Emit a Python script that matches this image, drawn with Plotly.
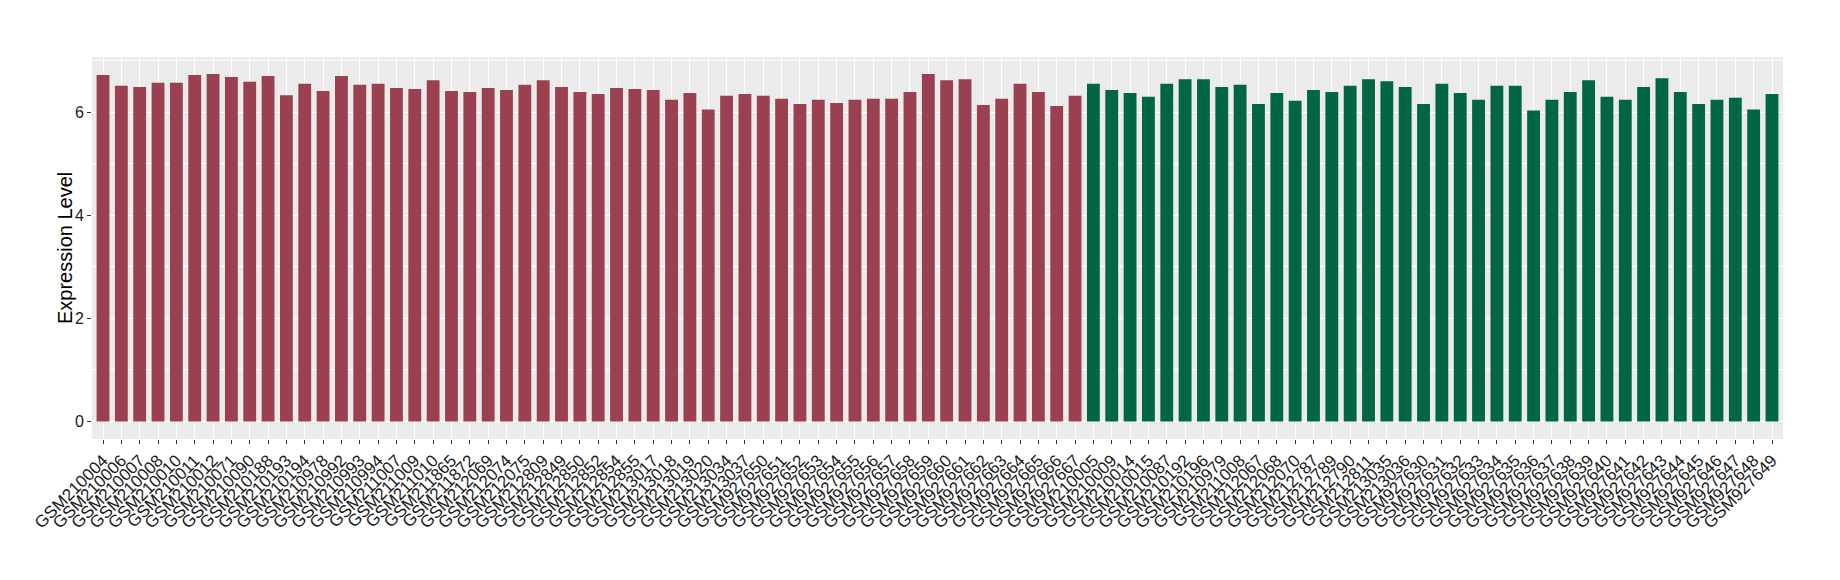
import plotly.graph_objects as go

samples_a = [
    "GSM210004", "GSM210006", "GSM210007", "GSM210008", "GSM210010", "GSM210011",
    "GSM210012", "GSM210071", "GSM210090", "GSM210188", "GSM210193", "GSM210194",
    "GSM210978", "GSM210992", "GSM210993", "GSM210994", "GSM211007", "GSM211009",
    "GSM211010", "GSM211865", "GSM211872", "GSM212069", "GSM212074", "GSM212075",
    "GSM212809", "GSM212849", "GSM212850", "GSM212852", "GSM212854", "GSM212855",
    "GSM213017", "GSM213018", "GSM213019", "GSM213020", "GSM213034", "GSM213037",
    "GSM927650", "GSM927651", "GSM927652", "GSM927653", "GSM927654", "GSM927655",
    "GSM927656", "GSM927657", "GSM927658", "GSM927659", "GSM927660", "GSM927661",
    "GSM927662", "GSM927663", "GSM927664", "GSM927665", "GSM927666", "GSM927667",
]
values_a = [
    6.72, 6.51, 6.49, 6.57, 6.57, 6.72, 6.74, 6.68, 6.59, 6.70, 6.33, 6.55,
    6.41, 6.70, 6.53, 6.55, 6.47, 6.45, 6.62, 6.41, 6.39, 6.47, 6.43, 6.53,
    6.62, 6.49, 6.39, 6.35, 6.47, 6.45, 6.43, 6.24, 6.37, 6.05, 6.32, 6.35,
    6.32, 6.26, 6.16, 6.24, 6.18, 6.24, 6.26, 6.26, 6.39, 6.74, 6.62, 6.64,
    6.14, 6.26, 6.55, 6.39, 6.12, 6.32,
]

samples_b = [
    "GSM210005", "GSM210009", "GSM210014", "GSM210015", "GSM210087", "GSM210192",
    "GSM210196", "GSM210979", "GSM211008", "GSM212067", "GSM212068", "GSM212070",
    "GSM212787", "GSM212789", "GSM212790", "GSM212811", "GSM213035", "GSM213036",
    "GSM927630", "GSM927631", "GSM927632", "GSM927633", "GSM927634", "GSM927635",
    "GSM927636", "GSM927637", "GSM927638", "GSM927639", "GSM927640", "GSM927641",
    "GSM927642", "GSM927643", "GSM927644", "GSM927645", "GSM927646", "GSM927647",
    "GSM927648", "GSM927649",
]
values_b = [
    6.55, 6.43, 6.37, 6.30, 6.55, 6.64, 6.64, 6.49, 6.53, 6.16, 6.37, 6.22,
    6.43, 6.39, 6.51, 6.64, 6.60, 6.49, 6.16, 6.55, 6.37, 6.24, 6.51, 6.51,
    6.03, 6.24, 6.39, 6.62, 6.30, 6.24, 6.49, 6.66, 6.39, 6.16, 6.24, 6.28,
    6.05, 6.35,
]

y_ticks = [0, 2, 4, 6]
y_title = "Expression Level"
color_a = "#9A4050"
color_b = "#006644"

x_all = samples_a + samples_b
y_all = values_a + values_b
colors = [color_a] * len(samples_a) + [color_b] * len(samples_b)

fig = go.Figure(go.Bar(x=x_all, y=y_all, marker=dict(color=colors, line=dict(width=0)),
                       showlegend=False))

font_family = "Liberation Sans, Arial, Helvetica, sans-serif"
fig.update_layout(
    width=1840, height=580,
    margin=dict(l=92, r=57, t=57, b=141),
    paper_bgcolor="white",
    plot_bgcolor="#EBEBEB",
    bargap=0.3,
    font=dict(family=font_family, color="#1a1a1a"),
)
fig.add_annotation(
    text=y_title, textangle=-90, showarrow=False,
    xref="paper", yref="paper", x=0, y=0.5, xanchor="center", yanchor="middle",
    xshift=-27, font=dict(size=20, color="#000000", family=font_family),
)
fig.update_xaxes(
    type="category",
    categoryorder="array", categoryarray=x_all,
    range=[-0.6, len(x_all) - 0.4],
    tickmode="array", tickvals=x_all, ticktext=x_all,
    tickangle=-45,
    tickfont=dict(size=17, color="#1a1a1a"),
    showgrid=True, gridcolor="white", gridwidth=1.3,
    ticks="outside", ticklen=4, tickcolor="#333333", tickwidth=1,
    showline=False, zeroline=False, automargin=False,
)
fig.update_yaxes(
    range=[-0.34, 7.07],
    tickvals=y_ticks,
    tickfont=dict(size=16, color="#1a1a1a"),
    showgrid=True, gridcolor="white", gridwidth=1.3,
    minor=dict(dtick=1, tick0=0, showgrid=True, gridcolor="white", gridwidth=0.6, ticks=""),
    ticks="outside", ticklen=4, tickcolor="#333333", tickwidth=1,
    showline=False, zeroline=False, automargin=False,
)

fig.write_html("out.html", config={"displayModeBar": False},
               post_script="document.body.style.margin='0';")
